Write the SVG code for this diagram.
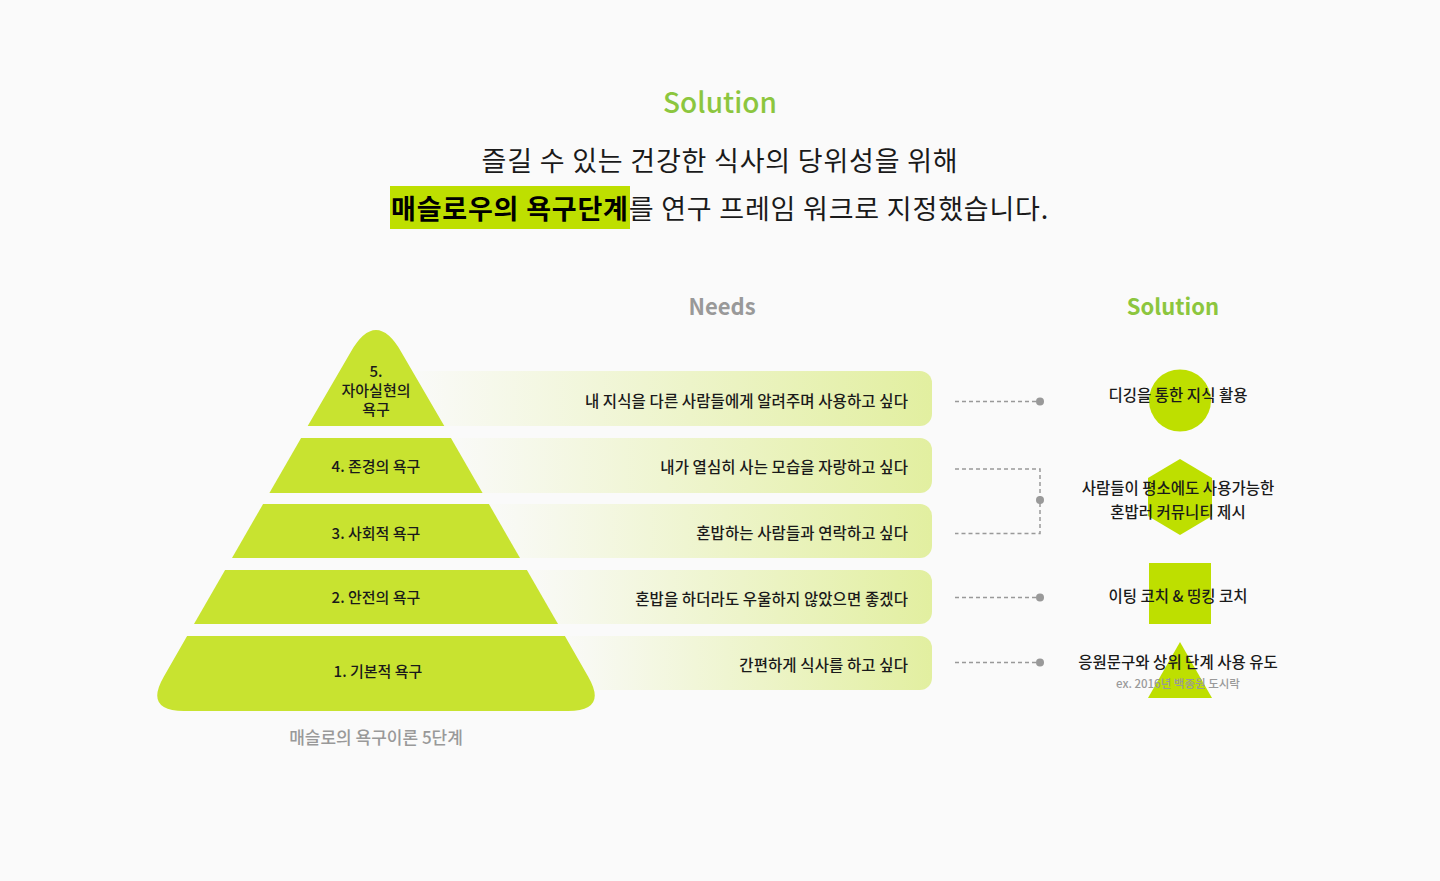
<svg xmlns="http://www.w3.org/2000/svg" width="1440" height="881" viewBox="0 0 1440 881">
  <defs>
    <linearGradient id="barGrad" x1="0" y1="0" x2="1" y2="0">
      <stop offset="0" stop-color="#fafafa"/>
      <stop offset="1" stop-color="#e2efa0"/>
    </linearGradient>
    <style>
      text { font-family: "Noto Sans CJK KR", "Noto Sans", sans-serif; }
      .tier { fill: #c8e330; }
      .tierLabel { font-size: 15px; fill: #1a1a1a; text-anchor: middle; font-weight: 500; }
      .bar { fill: url(#barGrad); }
      .needText { font-size: 15.5px; fill: #1a1a1a; text-anchor: end; letter-spacing: 0.1px; font-weight: 500; }
      .shape { fill: #bedf00; }
      .solText { font-size: 15.5px; fill: #1a1a1a; text-anchor: middle; font-weight: 500; }
      .conn { fill: none; stroke: #999; stroke-width: 1.5; stroke-dasharray: 4 3; }
      .dot { fill: #999; }
      .head { font-size: 22px; font-weight: 700; text-anchor: middle; }
      .headline { font-size: 27px; fill: #1a1a1a; letter-spacing: 0.8px; }
    </style>
  </defs>
  <rect width="1440" height="881" fill="#fafafa"/>

  <g id="title">
    <text x="720" y="113" font-size="28" font-weight="500" fill="#8cc63e" text-anchor="middle">Solution</text>
    <text class="headline" x="720" y="171" text-anchor="middle">즐길 수 있는 건강한 식사의 당위성을 위해</text>
    <rect x="390" y="186" width="240" height="43" fill="#bedf00"/>
    <text class="headline" x="391" y="219"><tspan font-weight="700" fill="#000">매슬로우의 욕구단계</tspan>를 연구 프레임 워크로 지정했습니다.</text>
  </g>

  <g id="headers">
    <text class="head" x="722" y="315" fill="#999">Needs</text>
    <text class="head" x="1173" y="315" fill="#8cc63e">Solution</text>
  </g>

  <g id="needs">
    <rect class="bar" x="402" y="371" width="530" height="55" rx="12"/>
    <rect class="bar" x="441" y="438" width="491" height="55" rx="12"/>
    <rect class="bar" x="479" y="504" width="453" height="54" rx="12"/>
    <rect class="bar" x="517" y="570" width="415" height="54" rx="12"/>
    <rect class="bar" x="555" y="636" width="377" height="54" rx="12"/>
    <text class="needText" x="908" y="407">내 지식을 다른 사람들에게 알려주며 사용하고 싶다</text>
    <text class="needText" x="908" y="473">내가 열심히 사는 모습을 자랑하고 싶다</text>
    <text class="needText" x="908" y="539">혼밥하는 사람들과 연락하고 싶다</text>
    <text class="needText" x="908" y="605">혼밥을 하더라도 우울하지 않았으면 좋겠다</text>
    <text class="needText" x="908" y="671">간편하게 식사를 하고 싶다</text>
  </g>

  <g id="tier5">
    <path class="tier" d="M350.6 352.2 Q376 308 401.4 352.2 L444.3 426 L307.7 426 Z"/>
    <text class="tierLabel" x="376" y="377">5.</text>
    <text class="tierLabel" x="376" y="396">자아실현의</text>
    <text class="tierLabel" x="376" y="415">욕구</text>
  </g>
  <g id="tier4">
    <path class="tier" d="M301.1 438 L450.9 438 L482.6 493 L269.4 493 Z"/>
    <text class="tierLabel" x="376" y="472">4. 존경의 욕구</text>
  </g>
  <g id="tier3">
    <path class="tier" d="M263.1 504 L488.9 504 L520 558 L232 558 Z"/>
    <text class="tierLabel" x="376" y="539">3. 사회적 욕구</text>
  </g>
  <g id="tier2">
    <path class="tier" d="M225.1 570 L526.9 570 L558 624 L194 624 Z"/>
    <text class="tierLabel" x="376" y="603">2. 안전의 욕구</text>
  </g>
  <g id="tier1">
    <path class="tier" d="M187.1 636 L564.9 636 L588.1 676.4 Q608.1 711 568.1 711 L183.9 711 Q143.9 711 163.9 676.4 Z"/>
    <text class="tierLabel" x="378" y="677">1.  기본적 욕구</text>
  </g>
  <g id="caption">
    <text x="376" y="744" font-size="17" fill="#999" text-anchor="middle" font-weight="500">매슬로의 욕구이론 5단계</text>
  </g>

  <g id="connectors">
    <path class="conn" d="M955 401.5 H1040"/>
    <circle class="dot" cx="1040" cy="401.5" r="4"/>
    <path class="conn" d="M955 469 H1040 V533.5 H955"/>
    <circle class="dot" cx="1040" cy="500" r="4"/>
    <path class="conn" d="M955 597.5 H1040"/>
    <circle class="dot" cx="1040" cy="597.5" r="4"/>
    <path class="conn" d="M955 662.5 H1040"/>
    <circle class="dot" cx="1040" cy="662.5" r="4"/>
  </g>

  <g id="sol1">
    <circle class="shape" cx="1180" cy="400.5" r="31"/>
    <text class="solText" x="1178" y="401">디깅을 통한 지식 활용</text>
  </g>
  <g id="sol2">
    <polygon class="shape" points="1180,459 1212,478 1212,516 1180,535 1148,516 1148,478"/>
    <text class="solText" x="1178" y="494">사람들이 평소에도 사용가능한</text>
    <text class="solText" x="1178" y="518">혼밥러 커뮤니티 제시</text>
  </g>
  <g id="sol3">
    <rect class="shape" x="1149" y="563" width="62" height="61"/>
    <text class="solText" x="1178" y="602">이팅 코치 &amp; 띵킹 코치</text>
  </g>
  <g id="sol4">
    <polygon class="shape" points="1180,642 1212,698 1148,698"/>
    <text class="solText" x="1178" y="668">응원문구와 상위 단계 사용 유도</text>
    <text x="1178" y="688" font-size="11.5" fill="#999" text-anchor="middle" font-weight="500">ex. 2016년 백종원 도시락</text>
  </g>
</svg>
